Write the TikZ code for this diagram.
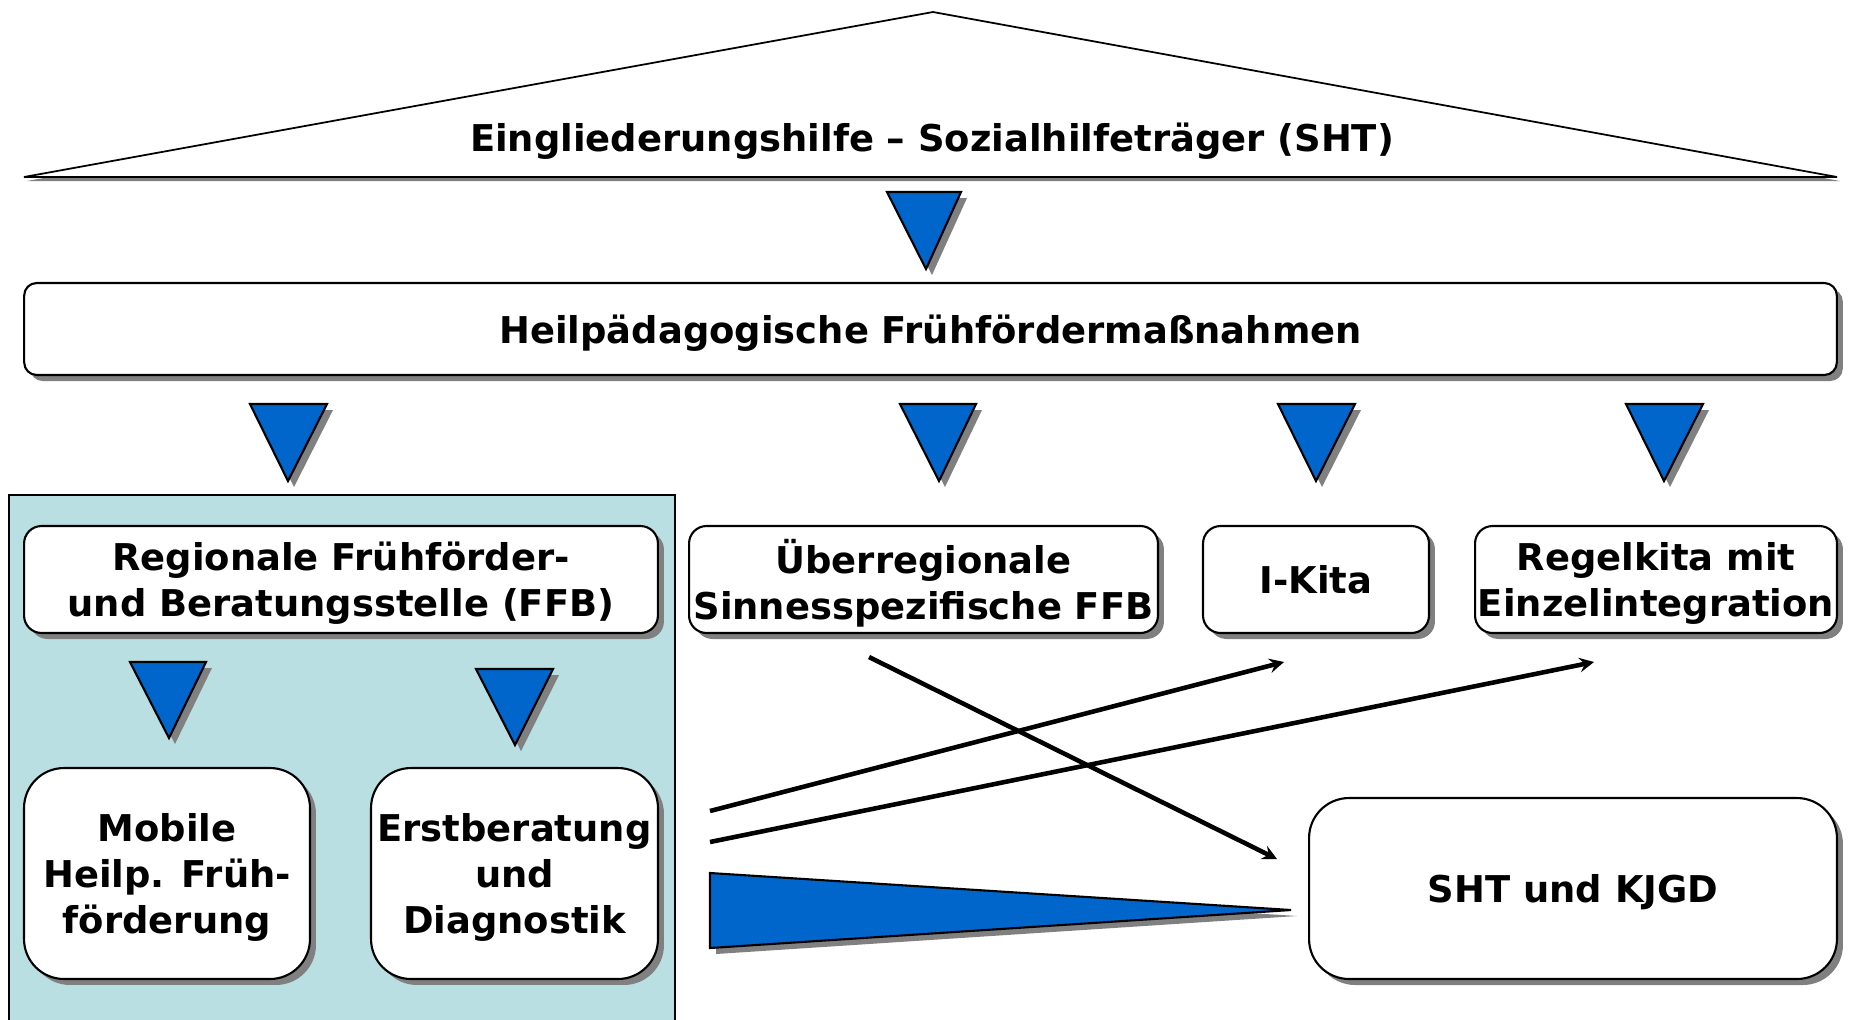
\documentclass[tikz,border=0pt]{standalone}
\usepackage{fontspec}
\setmainfont{DejaVu Sans}
\usetikzlibrary{arrows,shadows}
\definecolor{triblue}{RGB}{0,102,204}
\definecolor{ffbteal}{RGB}{185,223,227}
\tikzstyle{box} = [rectangle,rounded corners=0.35cm,draw=black,line width=1.2pt,
fill=white,inner sep=0pt,text depth=0pt,text centered,align=center,
font=\bfseries\fontsize{21}{26}\selectfont,
drop shadow={shadow xshift=0.12cm,shadow yshift=-0.12cm,fill=gray,opacity=1}]
\tikzstyle{bigbox} = [box,rounded corners=0.8cm]
\tikzstyle{tri} = [draw=black,line width=1.2pt,fill=triblue,
drop shadow={shadow xshift=0.12cm,shadow yshift=-0.12cm,fill=gray,opacity=1}]
\tikzstyle{roof} = [draw=black,line width=1pt,fill=white,
drop shadow={shadow xshift=0.06cm,shadow yshift=-0.08cm,fill=gray,opacity=1}]
\tikzstyle{arrow} = [line width=2.6pt,->,>=stealth]

\begin{document}
\begin{tikzpicture}[x=0.02cm,y=-0.02cm]
\useasboundingbox[fill=white] (0,0) rectangle (1849,1019);
%Background of the FFB group
\draw[fill=ffbteal,line width=0.8pt] (9,495) rectangle (675,1025);
%Roof
\coordinate (roofL) at (24,177);
\coordinate (roofT) at (933,12);
\coordinate (roofR) at (1837,177);
\draw[roof] (roofL) -- (roofT) -- (roofR) -- cycle;
\node (sht) at (932,141) [font=\bfseries\fontsize{21}{26}\selectfont] {Eingliederungshilfe -- Sozialhilfeträger (SHT)};
%Calling the blocks
\node (heil) at (930.5,329) [box,rounded corners=0.25cm,minimum width=36.26cm,minimum height=1.84cm] {Heilpädagogische Frühfördermaßnahmen};
\node (ffb) at (341,579.5) [box,minimum width=12.68cm,minimum height=2.14cm] {Regionale Frühförder-\\und Beratungsstelle (FFB)};
\node (ueber) at (923.5,579.5) [box,minimum width=9.38cm,minimum height=2.14cm] {Überregionale\\Sinnesspezifische FFB};
\node (ikita) at (1316,579.5) [box,minimum width=4.52cm,minimum height=2.14cm] {I-Kita};
\node (regel) at (1656,579.5) [box,minimum width=7.24cm,minimum height=2.14cm] {Regelkita mit\\Einzelintegration};
\node (mobile) at (167,873.5) [bigbox,minimum width=5.72cm,minimum height=4.22cm] {Mobile\\Heilp. Früh-\\förderung};
\node (erst) at (514.5,873.5) [bigbox,minimum width=5.74cm,minimum height=4.22cm] {Erstberatung\\und\\Diagnostik};
\node (kjgd) at (1573,888.5) [bigbox,minimum width=10.56cm,minimum height=3.62cm] {SHT und KJGD};
% Drawing the triangles between blocks
\draw[tri] (887,192) -- (961,192) -- (926,269) -- cycle;
\draw[tri] (250,404) -- (327,404) -- (288,481) -- cycle;
\draw[tri] (900,404) -- (976,404) -- (939,481) -- cycle;
\draw[tri] (1278,404) -- (1355,404) -- (1316,481) -- cycle;
\draw[tri] (1626,404) -- (1703,404) -- (1664,481) -- cycle;
\draw[tri] (130,662) -- (206,662) -- (169,738) -- cycle;
\draw[tri] (476,669) -- (553,669) -- (515,745) -- cycle;
\draw[tri] (710,873) -- (1291,910) -- (710,948) -- cycle;
% Drawing the arrows
\coordinate (a1) at (869,657);
\coordinate (a2) at (710,811);
\coordinate (a3) at (710,842);
\coordinate (b1) at (1277,859);
\coordinate (b2) at (1284,662);
\coordinate (b3) at (1594,662);
\draw[arrow] (a1) -- (b1);
\draw[arrow] (a2) -- (b2);
\draw[arrow] (a3) -- (b3);
\end{tikzpicture}
\end{document}
